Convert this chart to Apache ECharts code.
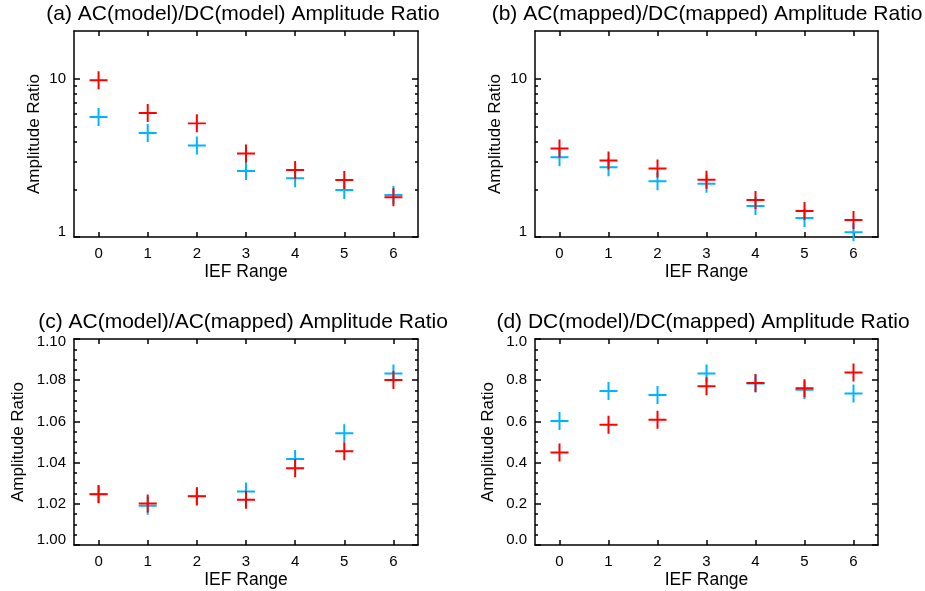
<!DOCTYPE html>
<html>
<head>
<meta charset="utf-8">
<script src="https://cdn.jsdelivr.net/npm/echarts@6/dist/echarts.min.js"></script>
<style>html,body{margin:0;padding:0;background:#fff;}#c{width:925px;height:591px;}</style>
</head>
<body>
<div id="c"></div>
<script>
// ---- data ----
var categories = ['0', '1', '2', '3', '4', '5', '6'];
var titles = [
  '(a) AC(model)/DC(model) Amplitude Ratio',
  '(b) AC(mapped)/DC(mapped) Amplitude Ratio',
  '(c) AC(model)/AC(mapped) Amplitude Ratio',
  '(d) DC(model)/DC(mapped) Amplitude Ratio'
];
var aRed  = [9.77, 6.07, 5.22, 3.37, 2.65, 2.29, 1.78];
var aBlue = [5.72, 4.54, 3.78, 2.61, 2.35, 1.98, 1.84];
var bRed  = [3.62, 3.04, 2.71, 2.30, 1.71, 1.46, 1.28];
var bBlue = [3.19, 2.76, 2.25, 2.17, 1.57, 1.32, 1.07];
var cRed  = [1.0246, 1.0202, 1.0236, 1.0220, 1.0373, 1.0455, 1.0801];
var cBlue = [1.0247, 1.0191, 1.0238, 1.0260, 1.0417, 1.0542, 1.0832];
var dRed  = [0.449, 0.584, 0.608, 0.771, 0.786, 0.761, 0.837];
var dBlue = [0.602, 0.748, 0.728, 0.832, 0.784, 0.753, 0.735];
var logMajorTicks = [1, 10];
var logMinorTicks = [2, 3, 4, 5, 6, 7, 8, 9];

// ---- style ----
var FONT = 'Liberation Sans, Arial, Helvetica, sans-serif';
var RED = '#ff0000', BLUE = '#00b4ff';
var PLUS = 'path://M-11,-100 L11,-100 L11,-11 L100,-11 L100,11 L11,11 L11,100 L-11,100 L-11,11 L-100,11 L-100,-11 L-11,-11 Z';
var grids = [
  {left: 74, top: 31, width: 344, height: 206},
  {left: 535, top: 31, width: 343, height: 206},
  {left: 74, top: 339, width: 344, height: 206},
  {left: 535, top: 339, width: 343, height: 206}
];
var nameGaps = [31, 31, 47, 38];

var lineStyle = {color: '#000', width: 1.5};
var xAxes = [], yAxes = [], series = [];

function edgeLabel(min, max, digits) {
  return {
    formatter: function (v) {
      var s = digits >= 0 ? v.toFixed(digits) : String(v);
      if (Math.abs(v - min) < 1e-9) return '{lo|' + s + '}';
      if (Math.abs(v - max) < 1e-9) return '{hi|' + s + '}';
      return s;
    },
    rich: {
      lo: {fontSize: 15, fontFamily: FONT, color: '#000', padding: [0, 0, 10, 0]},
      hi: {fontSize: 15, fontFamily: FONT, color: '#000', padding: [6, 0, 0, 0]}
    }
  };
}

grids.forEach(function (g, i) {
  // bottom and top x axes
  xAxes.push({
    gridIndex: i, type: 'category', data: categories, boundaryGap: true, position: 'bottom',
    axisLine: {show: true, onZero: false, lineStyle: lineStyle},
    axisTick: {show: true, inside: true, alignWithLabel: true, length: 5, lineStyle: lineStyle},
    axisLabel: {show: true, margin: 9, fontSize: 15, fontFamily: FONT, color: '#000'},
    splitLine: {show: false},
    name: 'IEF Range', nameLocation: 'middle', nameGap: 26,
    nameTextStyle: {fontSize: 17.5, fontFamily: FONT, color: '#000'}
  });
  xAxes.push({
    gridIndex: i, type: 'category', data: categories, boundaryGap: true, position: 'top',
    axisLine: {show: true, onZero: false, lineStyle: lineStyle},
    axisTick: {show: true, inside: true, alignWithLabel: true, length: 5, lineStyle: lineStyle},
    axisLabel: {show: false}, splitLine: {show: false}
  });
  var isLog = i < 2;
  ['left', 'right'].forEach(function (pos) {
    var base;
    if (isLog) {
      var lab = edgeLabel(1, 20, -1);
      base = {
        gridIndex: i, type: 'log', logBase: 10, min: 1, max: 20, position: pos,
        axisLine: {show: true, onZero: false, lineStyle: lineStyle},
        axisTick: {show: true, inside: true, length: 6, customValues: logMajorTicks, lineStyle: lineStyle},
        axisLabel: {show: pos === 'left', customValues: logMajorTicks, margin: 8, fontSize: 15,
          fontFamily: FONT, color: '#000', formatter: lab.formatter, rich: lab.rich},
        splitLine: {show: false}
      };
      yAxes.push(base);
      yAxes.push({
        gridIndex: i, type: 'log', logBase: 10, min: 1, max: 20, position: pos,
        axisLine: {show: false},
        axisTick: {show: true, inside: true, length: 3, customValues: logMinorTicks, lineStyle: lineStyle},
        axisLabel: {show: false}, splitLine: {show: false}
      });
    } else {
      var mn = i === 2 ? 1.0 : 0.0, mx = i === 2 ? 1.1 : 1.0, iv = i === 2 ? 0.02 : 0.2;
      var lab2 = edgeLabel(mn, mx, i === 2 ? 2 : 1);
      base = {
        gridIndex: i, type: 'value', min: mn, max: mx, interval: iv, position: pos,
        axisLine: {show: true, onZero: false, lineStyle: lineStyle},
        axisTick: {show: true, inside: true, length: 6, lineStyle: lineStyle},
        minorTick: {show: true, splitNumber: 4, length: 3, lineStyle: lineStyle},
        axisLabel: {show: pos === 'left', margin: 8, fontSize: 15, fontFamily: FONT, color: '#000',
          formatter: lab2.formatter, rich: lab2.rich},
        splitLine: {show: false}, minorSplitLine: {show: false}
      };
      yAxes.push(base);
    }
    if (pos === 'left') {
      base.name = 'Amplitude Ratio';
      base.nameLocation = 'middle';
      base.nameGap = nameGaps[i];
      base.nameRotate = 90;
      base.nameTextStyle = {fontSize: 17, fontFamily: FONT, color: '#000'};
    }
  });
});

var seriesData = [[aBlue, aRed], [bBlue, bRed], [cBlue, cRed], [dBlue, dRed]];
var yIndexBase = [0, 4, 8, 10];
seriesData.forEach(function (pair, i) {
  [BLUE, RED].forEach(function (col, k) {
    series.push({
      type: 'scatter', xAxisIndex: i * 2, yAxisIndex: yIndexBase[i],
      data: pair[k], symbol: PLUS, symbolSize: 18,
      itemStyle: {color: col, opacity: 1}, silent: true, animation: false
    });
  });
});

var titleCenters = [[243, 14], [707, 14], [243, 322], [703, 322]];
var graphics = titles.map(function (t, i) {
  return {
    type: 'text', x: titleCenters[i][0], y: titleCenters[i][1],
    style: {text: t, fontSize: 21, fontFamily: FONT, fill: '#000', align: 'center', verticalAlign: 'middle'}
  };
});

var chart = echarts.init(document.getElementById('c'), null, {renderer: 'canvas'});
chart.setOption({
  animation: false,
  backgroundColor: '#fff',
  grid: grids.map(function (g) { return Object.assign({containLabel: false}, g); }),
  xAxis: xAxes,
  yAxis: yAxes,
  series: series,
  graphic: graphics
});
</script>
</body>
</html>
